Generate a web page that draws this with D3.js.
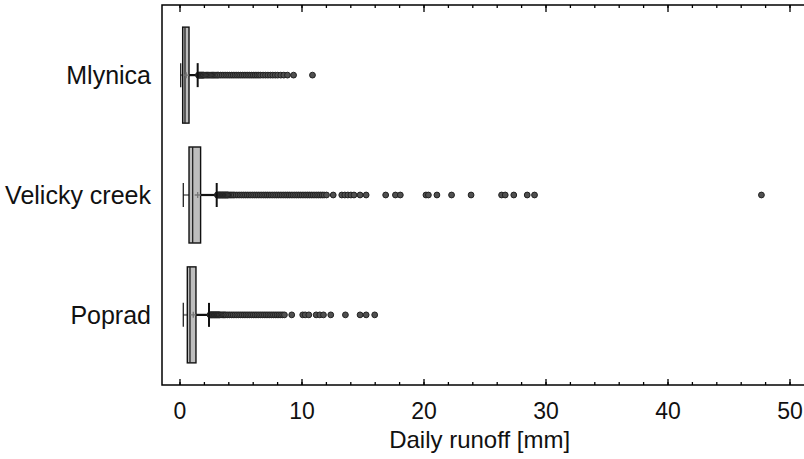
<!DOCTYPE html>
<html>
<head>
<meta charset="utf-8">
<script src="https://cdn.jsdelivr.net/npm/d3@7"></script>
<style>
  body { margin: 0; background: #fff; }
  svg { display: block; font-family: "Liberation Sans", Arial, sans-serif; }
</style>
</head>
<body>
<svg id="svg"></svg>
<script>
let width = 804, height = 459;

// rivers, top to bottom
let catchments = ["Mlynica", "Velicky creek", "Poprad"];
// box statistics [mm]
let lowWhisker = [0.10, 0.31, 0.31];
let q1 = [0.26, 0.78, 0.64];
let median = [0.45, 1.08, 0.86];
let q3 = [0.78, 1.73, 1.35];
let highWhisker = [1.49, 3.05, 2.42];
let means = [0.55, 1.49, 1.13];
// outliers (dense runs listed roughly)
let outMlynica = [1.55, 1.6, 1.65, 1.7, 1.75, 1.8, 1.85, 1.9, 1.95, 2.0, 2.1, 2.2, 2.3, 2.4, 2.5, 2.6, 2.7, 2.8,
  2.9, 3.0, 3.1, 3.2, 3.35, 3.5, 3.65, 3.8, 3.95, 4.1, 4.25, 4.4, 4.55, 4.7, 4.85, 5.0, 5.15, 5.3, 5.45,
  5.6, 5.75, 5.9, 6.05, 6.2, 6.35, 6.5, 6.65, 6.85, 7.05, 7.25, 7.45, 7.65, 7.85, 8.05, 8.3, 8.55, 8.85, 9.35, 10.9];
let outVelicky = [3.1, 3.15, 3.2, 3.25, 3.3, 3.35, 3.4, 3.45, 3.5, 3.55, 3.6, 3.65, 3.7, 3.75, 3.8, 3.85, 3.9,
  3.95, 4.0, 4.1, 4.2, 4.3, 4.4, 4.5, 4.65, 4.8, 4.95, 5.1, 5.25, 5.4, 5.55, 5.7, 5.85, 6.0, 6.15, 6.3,
  6.45, 6.6, 6.75, 6.9, 7.05, 7.2, 7.35, 7.5, 7.65, 7.8, 7.95, 8.1, 8.25, 8.4, 8.55, 8.7, 8.85, 9.0, 9.15,
  9.3, 9.45, 9.6, 9.75, 9.9, 10.05, 10.2, 10.35, 10.5, 10.65, 10.8, 10.95, 11.1, 11.25, 11.4, 11.55, 11.7,
  11.85, 12.05, 12.6, 13.3, 13.55, 13.8, 14.05, 14.3, 14.8, 15.3, 16.9, 17.7, 18.1, 20.2, 20.4, 21.1,
  22.3, 23.9, 26.4, 26.7, 27.4, 28.5, 29.1, 47.7];
let outPoprad = [2.5, 2.55, 2.6, 2.65, 2.7, 2.75, 2.8, 2.85, 2.9, 2.95, 3.0, 3.05, 3.1, 3.15, 3.2, 3.25, 3.3,
  3.4, 3.5, 3.6, 3.7, 3.8, 3.95, 4.1, 4.25, 4.4, 4.55, 4.7, 4.85, 5.0, 5.15, 5.3, 5.45, 5.6, 5.75, 5.9,
  6.05, 6.2, 6.35, 6.5, 6.65, 6.8, 6.95, 7.1, 7.25, 7.4, 7.55, 7.7, 7.85, 8.0, 8.15, 8.3, 8.45, 8.6, 9.2,
  10.1, 10.3, 10.6, 11.2, 11.5, 11.8, 12.4, 13.6, 14.8, 15.3, 16.0];
let outliers = [outMlynica, outVelicky, outPoprad];
let majorTicks = [0, 10, 20, 30, 40, 50];
let minorTicks = d3.range(0, 52, 2);

let plotLeft = 162, plotRight = 806, plotTop = 5, plotBottom = 385;

let svg = d3.select("#svg").attr("width", width).attr("height", height);

let x = d3.scaleLinear().domain([0, 50]).range([179.5, 789.5]);
let y = d3.scalePoint().domain(catchments).range([plotTop, plotBottom]).padding(0.585);
let boxH = 96;

// frame
svg.append("rect")
  .attr("x", plotLeft).attr("y", plotTop)
  .attr("width", plotRight - plotLeft).attr("height", plotBottom - plotTop)
  .attr("fill", "none").attr("stroke", "#000").attr("stroke-width", 1.5);

// bottom axis
svg.append("g").attr("transform", `translate(0,${plotBottom})`)
  .call(d3.axisBottom(x).tickValues(minorTicks).tickSize(-3).tickFormat(""));
let gbMaj = svg.append("g").attr("transform", `translate(0,${plotBottom})`);
gbMaj.call(d3.axisBottom(x).tickValues(majorTicks).tickSize(-6).tickPadding(18).tickFormat(d3.format("d")));
gbMaj.selectAll("text").attr("font-size", 23).attr("fill", "#111")
  .attr("font-family", "'Liberation Sans', Arial, sans-serif");

// top axis
svg.append("g").attr("transform", `translate(0,${plotTop})`)
  .call(d3.axisTop(x).tickValues(minorTicks).tickSize(-3).tickFormat(""));
svg.append("g").attr("transform", `translate(0,${plotTop})`)
  .call(d3.axisTop(x).tickValues(majorTicks).tickSize(-7).tickFormat(""));

svg.selectAll(".domain").remove();
svg.selectAll(".tick line").attr("stroke", "#000").attr("stroke-width", 1.3);

// axis title
svg.append("text")
  .attr("x", x(24.6)).attr("y", 448)
  .attr("text-anchor", "middle")
  .attr("font-size", 24).attr("fill", "#111")
  .text("Daily runoff [mm]");

// category labels
svg.append("g").selectAll("text")
  .data(catchments)
  .join("text")
  .attr("x", 151)
  .attr("y", d => y(d) + 9)
  .attr("text-anchor", "end")
  .attr("font-size", 25).attr("fill", "#111")
  .text(d => d);

// boxes
let groups = svg.append("g").selectAll("g")
  .data(catchments)
  .join("g");

groups.each(function (c, i) {
  let g = d3.select(this);
  let cy = y(c);

  // lower whisker
  g.append("line")
    .attr("x1", x(lowWhisker[i])).attr("x2", x(q1[i]))
    .attr("y1", cy).attr("y2", cy)
    .attr("stroke", "#888").attr("stroke-width", 2);
  g.append("line")
    .attr("x1", x(lowWhisker[i])).attr("x2", x(lowWhisker[i]))
    .attr("y1", cy - 12).attr("y2", cy + 12)
    .attr("stroke", "#111").attr("stroke-width", 1.2);

  // upper whisker
  g.append("line")
    .attr("x1", x(q3[i])).attr("x2", x(highWhisker[i]))
    .attr("y1", cy).attr("y2", cy)
    .attr("stroke", "#111").attr("stroke-width", 2.2);

  // outliers
  g.append("g").selectAll("circle")
    .data(outliers[i])
    .join("circle")
    .attr("cx", d => x(d))
    .attr("cy", cy)
    .attr("r", 2.9)
    .attr("fill", "#505050")
    .attr("stroke", "#222")
    .attr("stroke-width", 1);

  g.append("line")
    .attr("x1", x(highWhisker[i])).attr("x2", x(highWhisker[i]))
    .attr("y1", cy - 12).attr("y2", cy + 12)
    .attr("stroke", "#111").attr("stroke-width", 2);

  // box
  g.append("rect")
    .attr("x", x(q1[i])).attr("y", cy - boxH / 2)
    .attr("width", x(q3[i]) - x(q1[i])).attr("height", boxH)
    .attr("fill", "#bdbdbd").attr("stroke", "#111").attr("stroke-width", 1.4);
  g.append("line")
    .attr("x1", x(median[i])).attr("x2", x(median[i]))
    .attr("y1", cy - boxH / 2).attr("y2", cy + boxH / 2)
    .attr("stroke", "#222").attr("stroke-width", 1.3);

  // mean marker
  let mx = x(means[i]);
  g.append("path")
    .attr("d", `M${mx - 3},${cy}H${mx + 3}M${mx},${cy - 3}V${cy + 3}`)
    .attr("stroke", "#777").attr("stroke-width", 1.3);
});
</script>
</body>
</html>
